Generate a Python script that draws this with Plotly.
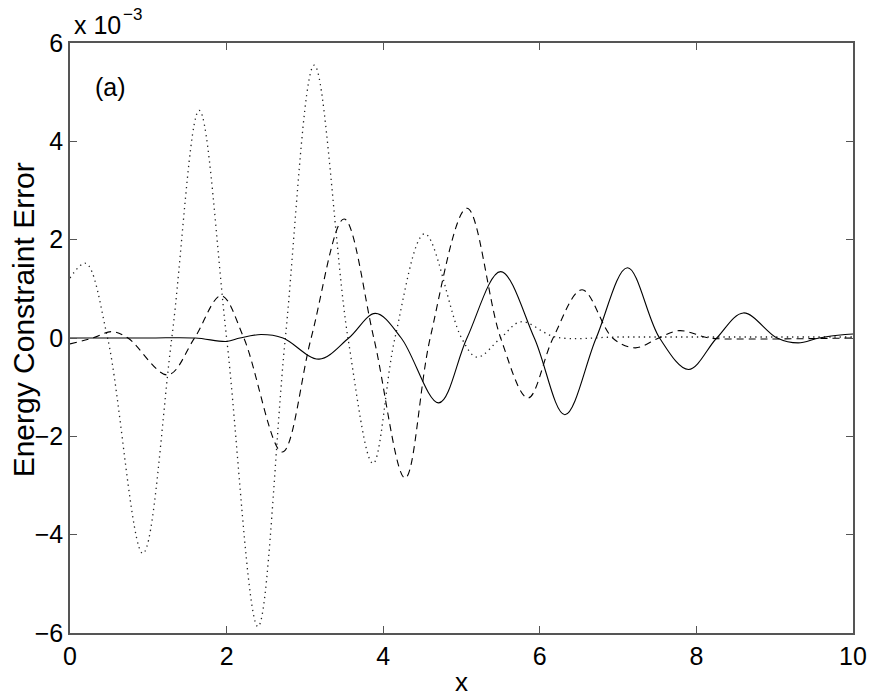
import plotly.graph_objects as go

# values in units of 1e-3
x_solid = [0, 1.0, 1.6, 2.0, 2.17, 2.44, 2.72, 3.18, 3.56, 3.9, 4.23, 4.71, 5.07, 5.5, 5.93,
           6.32, 6.72, 7.12, 7.53, 7.9, 8.26, 8.6, 9.03, 9.3, 9.57, 9.9, 10.0]
y_solid = [0, 0, 0, -0.07, 0, 0.07, 0, -0.43, 0, 0.5, 0, -1.32, 0, 1.35, 0,
           -1.56, 0, 1.43, 0, -0.64, 0, 0.51, 0, -0.1, 0, 0.07, 0.08]

x_dashed = [0, 0.29, 0.53, 0.74, 1.25, 1.59, 1.93, 2.22, 2.71, 3.08, 3.5, 3.88, 4.28, 4.6,
            5.07, 5.5, 5.85, 6.17, 6.54, 6.93, 7.22, 7.52, 7.78, 8.17, 8.6, 9.0, 10.0]
y_dashed = [-0.12, 0, 0.13, 0, -0.75, 0, 0.86, 0, -2.32, 0, 2.42, 0, -2.85, 0,
            2.64, 0, -1.22, 0, 0.98, 0, -0.2, 0, 0.15, 0, -0.02, -0.02, 0.0]

x_dotted = [0, 0.2, 0.48, 0.93, 1.3, 1.65, 2.0, 2.4, 2.75, 3.12, 3.55, 3.87, 4.15, 4.53,
            5.0, 5.2, 5.5, 5.76, 6.2, 7.0, 8.0, 9.0, 10.0]
y_dotted = [1.22, 1.52, 0, -4.38, 0, 4.63, 0, -5.87, 0, 5.55, 0, -2.55, 0, 2.12,
            0, -0.39, 0, 0.33, 0.02, 0.02, 0.02, 0.02, 0.02]

x_ticks = [0, 2, 4, 6, 8, 10]
y_ticks = [-6, -4, -2, 0, 2, 4, 6]
y_ticktext = ["\u22126", "\u22124", "\u22122", "0", "2", "4", "6"]

FONT = "Liberation Sans, Arial, Helvetica, sans-serif"

fig = go.Figure()
fig.add_trace(go.Scatter(x=x_dotted, y=y_dotted, mode="lines",
                         line=dict(color="#222", width=1.3, dash="1.3px,4px", shape="spline", smoothing=1.0),
                         showlegend=False))
fig.add_trace(go.Scatter(x=x_dashed, y=y_dashed, mode="lines",
                         line=dict(color="black", width=1.1, dash="7px,5px", shape="spline", smoothing=1.0),
                         showlegend=False))
fig.add_trace(go.Scatter(x=x_solid, y=y_solid, mode="lines",
                         line=dict(color="black", width=1.1, shape="spline", smoothing=1.0),
                         showlegend=False))

axis_common = dict(showline=True, mirror="ticks", linecolor="#555", linewidth=1.5,
                   ticks="inside", ticklen=7, tickcolor="#555", tickwidth=1,
                   showgrid=False, zeroline=False,
                   tickfont=dict(family=FONT, size=25, color="black"))

fig.update_layout(
    width=879, height=699,
    margin=dict(l=70, r=22, t=43, b=66),
    paper_bgcolor="white", plot_bgcolor="white",
    xaxis=dict(range=[0, 10], tickvals=x_ticks, **axis_common),
    yaxis=dict(range=[-6, 6], tickvals=y_ticks, ticktext=y_ticktext, **axis_common),
    annotations=[
        dict(text="x", xref="paper", yref="paper", x=0.5, y=-0.083,
             xanchor="center", yanchor="middle", showarrow=False,
             font=dict(family=FONT, size=26, color="black")),
        dict(text="Energy Constraint Error", xref="paper", yref="paper", x=-0.06, y=0.53,
             xanchor="center", yanchor="middle", textangle=-90, showarrow=False,
             font=dict(family=FONT, size=30, color="black")),
        dict(text="x 10", xref="paper", yref="paper", x=0.0025, y=1,
             xanchor="left", yanchor="bottom", showarrow=False, yshift=2,
             font=dict(family=FONT, size=25, color="black")),
        dict(text="\u22123", xref="paper", yref="paper", x=0.0648, y=1,
             xanchor="left", yanchor="bottom", showarrow=False, yshift=17,
             font=dict(family=FONT, size=17, color="black")),
        dict(text="(a)", xref="x", yref="y", x=0.3, y=5.1, xanchor="left", yanchor="middle",
             showarrow=False, font=dict(family=FONT, size=25, color="black")),
    ],
)

fig.write_html("out.html", config={"displayModeBar": False},
               post_script="document.body.style.margin='0px';")
